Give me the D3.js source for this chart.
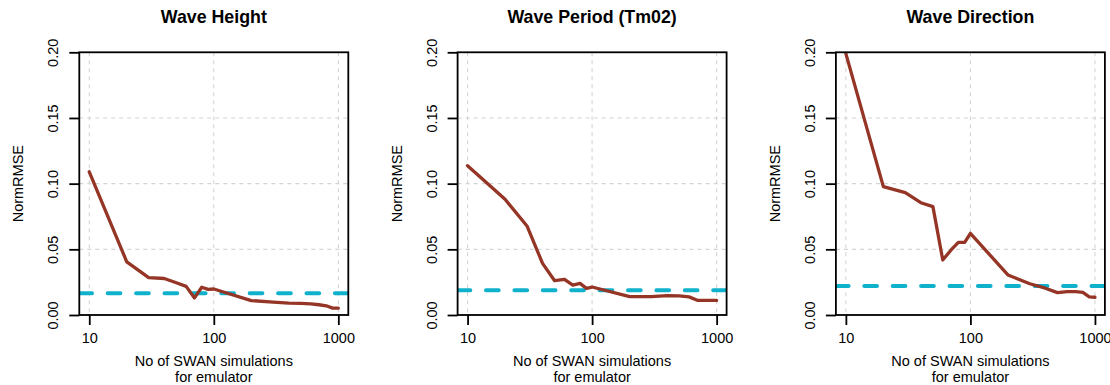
<!DOCTYPE html>
<html>
<head>
<meta charset="utf-8">
<script src="https://cdn.jsdelivr.net/npm/d3@7"></script>
<style>
  html, body { margin: 0; padding: 0; background: #fff; }
  svg { display: block; }
  text { font-family: "Liberation Sans", Arial, sans-serif; fill: #000; }
</style>
</head>
<body>
<svg id="chart" width="1110" height="385"></svg>
<script>
// Training-set sizes (number of SWAN runs used to build the emulator)
const nSims = [10, 20, 30, 40, 50, 60, 70, 80, 90, 100, 200, 300, 400, 500, 600, 700, 800, 900, 1000];

// Normalised RMSE of the emulator for each wave parameter
const waveHeight    = [0.109, 0.0405, 0.0284, 0.0278, 0.0246, 0.0218, 0.0130, 0.0211, 0.0195, 0.0198, 0.0110, 0.0098, 0.0090, 0.0088, 0.0084, 0.0078, 0.0070, 0.0052, 0.0052];
const wavePeriod    = [0.1137, 0.0881, 0.0678, 0.0393, 0.0261, 0.0272, 0.0228, 0.0241, 0.0203, 0.0213, 0.0140, 0.0140, 0.0148, 0.0146, 0.0138, 0.0112, 0.0111, 0.0111, 0.0111];
const waveDirection = [0.199, 0.0977, 0.0931, 0.0855, 0.0825, 0.0419, 0.0495, 0.0553, 0.0553, 0.0622, 0.0305, 0.0238, 0.0204, 0.0170, 0.0178, 0.0178, 0.0172, 0.0138, 0.0135];

// Reference level (dashed horizontal line) for each parameter
const referenceLevels = [0.0165, 0.0188, 0.0221];

const panelTitles = ["Wave Height", "Wave Period (Tm02)", "Wave Direction"];
const seriesList = [waveHeight, wavePeriod, waveDirection];

const xTicks = [10, 100, 1000];
const yTicks = [0, 0.05, 0.10, 0.15, 0.20];
const yTickLabels = ["0.00", "0.05", "0.10", "0.15", "0.20"];
const yAxisTitle = "NormRMSE";
const xAxisTitle = ["No of SWAN simulations", "for emulator"];

const svg = d3.select("#chart");

const boxW = 269, boxTop = 52.3, boxBottom = 315;
const panelStep = 378.3, firstLeft = 79.3;
const lineColor = "#943526", refColor = "#0fb1cb", gridColor = "#d4d4d4";

seriesList.forEach((values, i) => {
  const left = firstLeft + i * panelStep;
  const right = left + boxW;

  // log x axis with the usual 4% padding on each side of [10, 1000]
  const x = d3.scaleLog().domain([Math.pow(10, 0.92), Math.pow(10, 3.08)]).range([left, right]);
  const y = d3.scaleLinear().domain([0, 0.2]).range([boxBottom, boxTop]);

  const g = svg.append("g");

  const clipId = "clip" + i;
  g.append("clipPath").attr("id", clipId)
    .append("rect").attr("x", left).attr("y", boxTop).attr("width", boxW).attr("height", boxBottom - boxTop);

  // grid
  g.selectAll(".vgrid").data(xTicks).enter().append("line")
    .attr("x1", d => x(d)).attr("x2", d => x(d))
    .attr("y1", boxTop).attr("y2", boxBottom)
    .attr("stroke", gridColor).attr("stroke-width", 1.1).attr("stroke-dasharray", "4,4");
  g.selectAll(".hgrid").data(yTicks).enter().append("line")
    .attr("x1", left).attr("x2", right)
    .attr("y1", d => y(d)).attr("y2", d => y(d))
    .attr("stroke", gridColor).attr("stroke-width", 1.1).attr("stroke-dasharray", "4,4");

  const plotArea = g.append("g").attr("clip-path", `url(#${clipId})`);

  // reference level
  plotArea.append("line")
    .attr("x1", left).attr("x2", right)
    .attr("y1", y(referenceLevels[i])).attr("y2", y(referenceLevels[i]))
    .attr("stroke", refColor).attr("stroke-width", 4)
    .attr("stroke-linecap", "round")
    .attr("stroke-dasharray", "12.7,15.7");

  // error curve
  const line = d3.line().x(d => x(d[0])).y(d => y(d[1]));
  plotArea.append("path")
    .datum(nSims.map((n, k) => [n, values[k]]))
    .attr("d", line)
    .attr("fill", "none")
    .attr("stroke", lineColor)
    .attr("stroke-width", 3.3)
    .attr("stroke-linejoin", "round")
    .attr("stroke-linecap", "round");

  // x axis
  const xAxis = d3.axisBottom(x).tickValues(xTicks).tickFormat(d3.format("d")).tickSize(10).tickPadding(8);
  const xa = g.append("g").attr("transform", `translate(0,${boxBottom})`).call(xAxis);
  xa.select(".domain").remove();
  xa.selectAll("line").attr("stroke", "#000").attr("stroke-width", 1.8);
  xa.selectAll("text").attr("font-size", "14.5px").attr("font-family", "Liberation Sans, Arial, sans-serif");

  // y axis with labels rotated parallel to the axis
  const yAxis = d3.axisLeft(y).tickValues(yTicks).tickFormat((d, k) => yTickLabels[k]).tickSize(10).tickPadding(8);
  const ya = g.append("g").attr("transform", `translate(${left},0)`).call(yAxis);
  ya.select(".domain").remove();
  ya.selectAll("line").attr("stroke", "#000").attr("stroke-width", 1.8);
  ya.selectAll("text")
    .attr("font-size", "14.5px")
    .attr("font-family", "Liberation Sans, Arial, sans-serif")
    .attr("x", null).attr("dy", null)
    .attr("text-anchor", "middle")
    .attr("transform", "translate(-21,0) rotate(-90)");

  // frame
  g.append("rect")
    .attr("x", left).attr("y", boxTop).attr("width", boxW).attr("height", boxBottom - boxTop)
    .attr("fill", "none").attr("stroke", "#000").attr("stroke-width", 1.8);

  // titles
  const cx = (left + right) / 2;
  g.append("text").attr("x", cx).attr("y", 22.5)
    .attr("text-anchor", "middle").attr("font-size", "17.8px").attr("font-weight", "bold")
    .text(panelTitles[i]);

  g.append("text").attr("x", cx).attr("y", 366)
    .attr("text-anchor", "middle").attr("font-size", "14.5px").text(xAxisTitle[0]);
  g.append("text").attr("x", cx).attr("y", 382)
    .attr("text-anchor", "middle").attr("font-size", "14.5px").text(xAxisTitle[1]);

  g.append("text")
    .attr("transform", `translate(${left - 56},${(boxTop + boxBottom) / 2}) rotate(-90)`)
    .attr("text-anchor", "middle").attr("font-size", "14.5px").text(yAxisTitle);
});
</script>
</body>
</html>
